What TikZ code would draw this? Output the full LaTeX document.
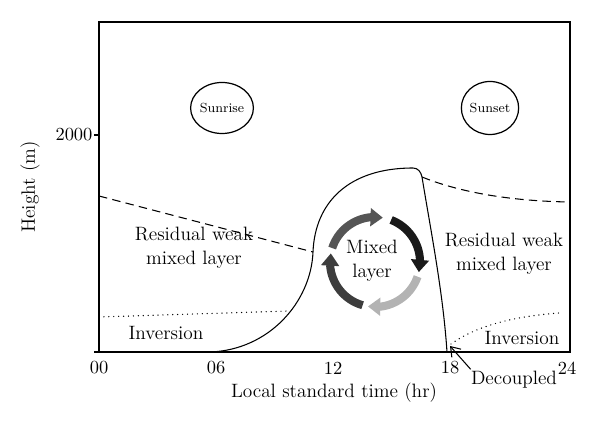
\documentclass[tikz,border=0pt]{standalone}
\usetikzlibrary{arrows.meta, bending, shapes.geometric}

\begin{document}
\begin{tikzpicture}[x=0.2mm, y=0.2mm,
    txt/.style={font=\fontsize{11}{13.5}\selectfont, align=center},
    ticklbl/.style={font=\fontsize{10.5}{12}\selectfont},
    sun/.style={draw, ellipse, line width=0.7pt, inner sep=0pt, font=\fontsize{7.5}{9}\selectfont},
    ringarrow/.style={line width=4.6pt, -{Triangle[length=7pt, width=10pt]}},
    thinline/.style={line width=0.6pt},
    dashline/.style={line width=0.6pt, dash pattern=on 4.8pt off 3pt},
    dotline/.style={line width=0.8pt, line cap=round, dash pattern=on 0pt off 2.8pt}]

    % Define colours of the circulation arrows
    \definecolor{ringTop}{HTML}{555555}
    \definecolor{ringRight}{HTML}{1A1A1A}
    \definecolor{ringBottom}{HTML}{B3B3B3}
    \definecolor{ringLeft}{HTML}{3D3D3D}

    % Fix the picture size
    \useasboundingbox (-99,-75) rectangle (501,352);

    % Draw frame and axes
    \coordinate (origin) at (0,0);
    \coordinate (topRight) at (471,330);
    \draw[line width=0.8pt] (origin) rectangle (topRight);
    \draw[line width=0.8pt] (-5,0) -- (origin);
    \draw[line width=0.8pt] (-5,217) -- (0,217) node[left, ticklbl] (h2000) {2000};

    % Label x-axis
    \foreach \h/\lbl in {0/00, 6/06, 12/12, 18/18, 24/24}
        \node[ticklbl] (t\h) at (\h*19.5, -16) {\lbl};
    \node[txt] (xlab) at (235,-41) {Local standard time (hr)};
    \node[txt, rotate=90] (ylab) at (-69,165) {Height (m)};

    % Sunrise and sunset
    \node[sun, minimum width=1.12cm, minimum height=1.02cm] (sunrise) at (123,244) {Sunrise};
    \node[sun, minimum width=1.08cm, minimum height=1.06cm] (sunset) at (391,244) {Sunset};

    % Draw top of the mixed layer
    \draw[thinline] (111,0) .. controls (170,2) and (212,50) .. (214,100) coordinate (mlLeft)
        .. controls (216,150) and (250,184) .. (314,184)
        .. controls (319,184) and (322,180) .. (323,175) coordinate (mlRight)
        .. controls (332,120) and (344,60) .. (348,0);

    % Draw top of the residual layer
    \draw[dashline] (0,156) -- (mlLeft);
    \draw[dashline] (mlRight) .. controls (360,160) and (410,151) .. (470,150);

    % Draw top of the inversion
    \draw[dotline] (0,35) -- (190,41);
    \draw[dotline] (352,8) .. controls (380,28) and (420,36) .. (460,39);

    % Layer labels
    \node[txt] (resLeft) at (95,104) {Residual weak\\mixed layer};
    \node[txt] (resRight) at (405,98) {Residual weak\\mixed layer};
    \node[txt] (invLeft) at (67,19) {Inversion};
    \node[txt] (invRight) at (423,14) {Inversion};
    \node[txt] (mixed) at (273,91) {Mixed\\layer};

    % Circulation arrows round the mixed layer
    \coordinate (ring) at (276,90);
    \def\ringR{0.9cm}
    \draw[ringarrow, ringTop] ([shift={(162:\ringR)}]ring) arc[start angle=162, end angle=80, radius=\ringR];
    \draw[ringarrow, ringRight] ([shift={(69:\ringR)}]ring) arc[start angle=69, end angle=-13, radius=\ringR];
    \draw[ringarrow, ringBottom] ([shift={(-19:\ringR)}]ring) arc[start angle=-19, end angle=-99, radius=\ringR];
    \draw[ringarrow, ringLeft] ([shift={(-106:\ringR)}]ring) arc[start angle=-106, end angle=-191, radius=\ringR];

    % Decoupled label and pointer
    \node[txt, inner sep=1pt] (dec) at (415,-28) {Decoupled};
    \coordinate (decTip) at (351,6);
    \draw[thinline, -{Straight Barb[length=5pt, width=7pt]}] ([xshift=1pt]dec.north west) -- (decTip);

\end{tikzpicture}
\end{document}
